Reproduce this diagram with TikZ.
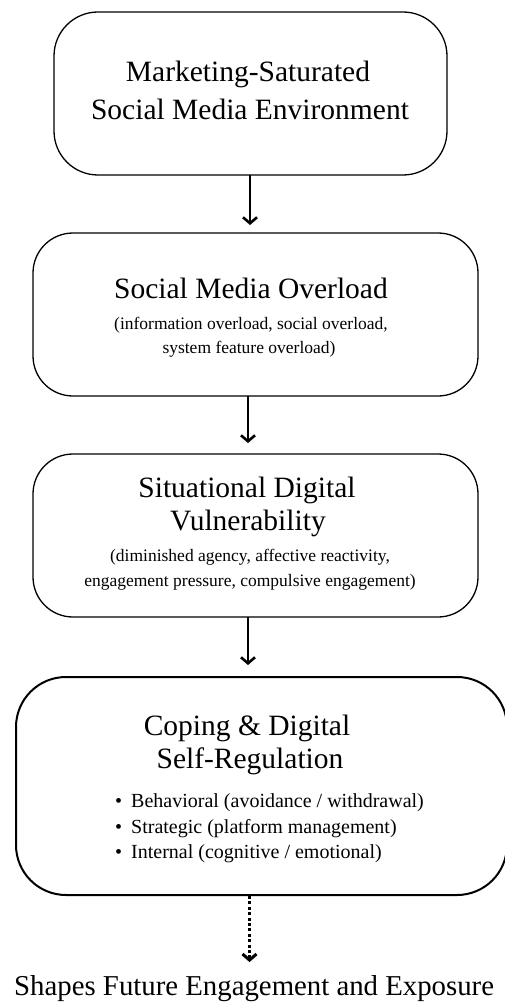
\documentclass[tikz,border=0pt]{standalone}
\usepackage{fontspec}
\setmainfont{Liberation Serif}
\usetikzlibrary{arrows.meta}
\tikzset{
  box/.style={draw=black, line width=1.3pt, rounded corners=44pt, inner sep=0pt, outer sep=0pt, fill=white},
  bigbox/.style={box, line width=2pt, rounded corners=50pt},
  title/.style={font=\fontsize{29.5}{36}\selectfont, inner sep=0pt, anchor=base},
  sub/.style={font=\fontsize{17.5}{22}\selectfont, inner sep=0pt, anchor=base},
  item/.style={font=\fontsize{20}{24}\selectfont, inner sep=0pt, anchor=base west},
  flow/.style={line width=2.4pt, -{Straight Barb[length=6pt,width=14pt,line width=2.6pt]}},
  dotflow/.style={line width=3pt, dash pattern=on 3pt off 2.4pt, -{Straight Barb[length=6pt,width=14pt,line width=3pt]}}
}
\begin{document}
\begin{tikzpicture}[x=1pt,y=-1pt]
\useasboundingbox (0,0) rectangle (505,1003);
\fill[white] (0,0) rectangle (505,1003);
\clip (0,0) rectangle (505,1003);

% boxes
\node[box, minimum width=393pt, minimum height=163pt] (b1) at (250.5,93.5) {};
\node[box, rounded corners=40pt, minimum width=445pt, minimum height=163pt] (b2) at (255.5,314.5) {};
\node[box, rounded corners=40pt, minimum width=445pt, minimum height=163pt] (b3) at (255.5,535.5) {};
\node[bigbox, minimum width=491pt, minimum height=218pt] (b4) at (261.5,786) {};

% box 1 text
\node[title] (t1a) at (248,81.7) {Marketing-Saturated};
\node[title] (t1b) at (250,120) {Social Media Environment};

% box 2 text
\node[title] (t2a) at (251,298) {Social Media Overload};
\node[sub] (t2b) at (251,329) {(information overload, social overload,};
\node[sub] (t2c) at (249,353) {system feature overload)};

% box 3 text
\node[title] (t3a) at (247,497.7) {Situational Digital};
\node[title] (t3b) at (248,530) {Vulnerability};
\node[sub] (t3c) at (250,561.7) {(diminished agency, affective reactivity,};
\node[sub] (t3d) at (250,586) {engagement pressure, compulsive engagement)};

% box 4 text
\node[title] (t4a) at (247,735) {Coping \& Digital};
\node[title] (t4b) at (250,768) {Self-Regulation};
\node[item] (i1) at (115,807) {\textbullet\hspace{9pt}Behavioral (avoidance / withdrawal)};
\node[item] (i2) at (115,833) {\textbullet\hspace{9pt}Strategic (platform management)};
\node[item] (i3) at (115,858.5) {\textbullet\hspace{9pt}Internal (cognitive / emotional)};

% outcome
\node[title, font=\fontsize{28.8}{34}\selectfont, anchor=base west] (out) at (14,995) {Shapes Future Engagement and Exposure};
\coordinate (outtop) at (249.5,962);

% connectors
\draw[flow] (250,175) -- (250,225);
\draw[flow] (248,396) -- (248,443);
\draw[flow] (248,617) -- (248,665);
\draw[dotflow] (249.5,896) -- (outtop);
\end{tikzpicture}
\end{document}
